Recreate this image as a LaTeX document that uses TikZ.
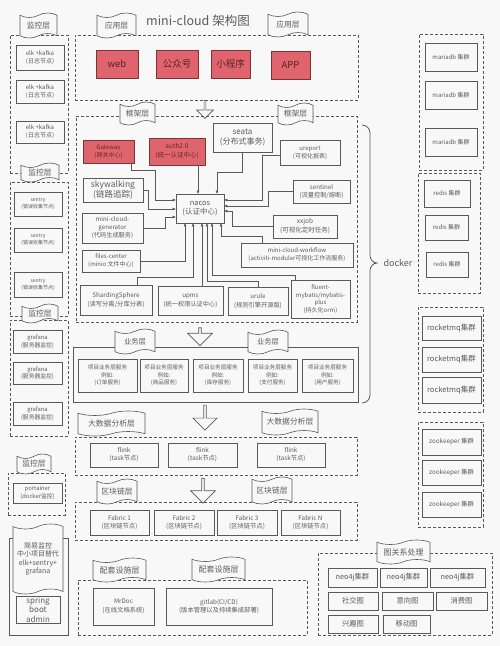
\documentclass[tikz,border=0pt]{standalone}
\usepackage{fontspec}
\setmainfont{Noto Sans CJK SC}
\usetikzlibrary{shapes.symbols,shapes.arrows,arrows.meta}
\definecolor{lc}{HTML}{595959}
\definecolor{tc}{HTML}{5C5C5C}
\definecolor{bgc}{HTML}{F8F8F8}
\definecolor{redc}{HTML}{E0646E}
\definecolor{redd}{HTML}{7A3535}
\newcommand\fs[2]{\fontsize{#1}{#2}\selectfont}
\newcommand\bx[7][]{\node[#1,minimum width={(#5-#3)*1pt},minimum height={(#6-#4)*1pt}] (#2) at ({(#3+#5)/2},{(#4+#6)/2}) {#7};}
\tikzset{
 box/.style={draw=lc, line width=0.6pt, fill=bgc, inner sep=0.5pt, align=center, text=tc, font=\fs{6}{8}},
 redbox/.style={box, fill=redc, draw=redd, text=redd!80!black, font=\fs{6}{8}},
 appbox/.style={box, fill=redc, draw=redd, text=redd!70!black, font=\fs{9.5}{11}},
 grp/.style={draw=lc, line width=0.7pt, dash pattern=on 3pt off 2pt, inner sep=0pt},
 sgrp/.style={draw=lc, line width=0.7pt, inner sep=0pt},
 banner/.style={tape, draw=lc, line width=0.6pt, fill=bgc, inner sep=0pt, tape bend height=4.5pt, align=center, text=tc, font=\fs{7.8}{9}},
 harrow/.style={single arrow, draw=lc, line width=0.7pt, fill=bgc, shape border rotate=270, single arrow head extend=3pt, inner sep=0pt},
 conn/.style={draw=lc, line width=0.5pt, -{Triangle[length=3pt,width=2.6pt]}},
}
\begin{document}
\begin{tikzpicture}[x=1pt,y=-1pt]
\fill[bgc] (0,0) rectangle (500,646);
\useasboundingbox (0,0) rectangle (500,646);

\node[font=\fs{12.5}{14}, text=tc] (title) at (198,21) {mini-cloud 架构图};

% ---------- left column ----------
\bx[grp]{lg1}{10}{35}{68}{173}{}
\bx[box,font=\fs{6}{8}]{elk1}{16}{45}{64}{70}{elk +kafka\\(日志节点)}
\bx[box,font=\fs{6}{8}]{elk2}{16}{80}{64}{103}{elk +kafka\\(日志节点)}
\bx[box,font=\fs{6}{8}]{elk3}{16}{121}{64}{143}{elk +kafka\\(日志节点)}
\bx[banner]{lb1}{20}{13}{57}{38}{监控层}

\bx[grp]{lg2}{10}{182}{68}{316}{}
\bx[box,font=\fs{5}{7}]{sen1}{14}{192}{62}{216}{sentry\\(错误收集节点)}
\bx[box,font=\fs{5}{7}]{sen2}{14}{228}{62}{252}{sentry\\(错误收集节点)}
\bx[box,font=\fs{5}{7}]{sen3}{14}{272}{62}{297}{sentry\\(错误收集节点)}
\bx[banner]{lb2}{21}{163}{59}{182}{监控层}

\bx[grp]{lg3}{10}{320}{68}{436}{}
\bx[box,font=\fs{5.8}{7.5}]{gra1}{13}{330}{62}{353}{grafana\\(服务器监控)}
\bx[box,font=\fs{5.8}{7.5}]{gra2}{13}{362}{62}{384}{grafana\\(服务器监控)}
\bx[box,font=\fs{5.8}{7.5}]{gra3}{13}{402}{62}{425}{grafana\\(服务器监控)}
\bx[banner]{lb3}{22}{304}{58}{323}{监控层}

\bx[grp]{lg4}{8}{473}{65}{515}{}
\bx[box,font=\fs{5.8}{7.5}]{port}{13}{483}{62}{503}{portainer\\(docker监控)}
\bx[banner]{lb4}{17}{454}{51}{474}{监控层}

\bx[sgrp]{lg5}{9}{538}{68}{635}{}
\bx[banner,font=\fs{7}{8.5},tape bend height=5pt]{lb5}{13}{524}{63}{594}{简易监控\\中小项目替代\\elk+sentry+\\grafana}
\bx[box,font=\fs{8}{9.5}]{sba}{16}{596}{60}{623}{spring\\boot\\admin}

% ---------- application layer ----------
\bx[grp]{appg}{75}{35}{358}{100}{}
\bx[appbox]{web}{96}{50}{138}{78}{web}
\bx[appbox]{gzh}{156}{50}{198}{78}{公众号}
\bx[appbox]{xcx}{211}{50}{250}{78}{小程序}
\bx[appbox]{app}{271}{51}{310}{79}{APP}
\bx[banner]{ab1}{97}{13}{136}{38}{应用层}
\bx[banner]{ab2}{268}{12}{308}{37}{应用层}

\node[harrow, minimum height=18pt, minimum width=17pt] (ar1) at (205,109) {};

% ---------- framework layer ----------
\bx[grp]{fwg}{76}{116}{357}{322}{}
\bx[banner]{fb1}{120}{102}{155}{125}{框架层}
\bx[banner]{fb2}{278}{103}{313}{125}{框架层}

\bx[redbox,font=\fs{6}{8}]{gw}{83}{140}{134}{163}{Gateway\\(网关中心)}
\bx[redbox,font=\fs{6.5}{9}]{auth}{149}{138}{205}{165}{auth2.0\\(统一认证中心)}
\bx[box,font=\fs{8}{10}]{seata}{213}{123}{272}{152}{seata\\(分布式事务)}
\bx[box,font=\fs{6}{8}]{urep}{280}{140}{340}{165}{ureport\\(可视化报表)}
\bx[box,font=\fs{8.5}{10.5}]{sky}{83}{178}{143}{202}{skywalking\\(链路追踪)}
\bx[box,font=\fs{6.2}{8.5}]{sent}{293}{180}{350}{203}{sentinel\\(流量控制/熔断)}
\bx[box,font=\fs{7.5}{9.5}]{nacos}{176}{194}{224}{223}{nacos\\(认证中心)}
\bx[box,font=\fs{6.2}{8}]{gen}{82}{213}{143}{243}{mini-cloud-\\generator\\(代码生成服务)}
\bx[box,font=\fs{6.5}{9}]{xxjob}{273}{215}{337}{238}{xxjob\\(可视化定时任务)}
\bx[box,font=\fs{6}{8}]{files}{82}{250}{140}{272}{files-center\\(minio 文件中心)}
\bx[box,font=\fs{6}{8}]{wf}{241}{243}{353}{267}{mini-cloud-workflow\\(activiti-moduler可视化工作流服务)}
\bx[box,font=\fs{6.3}{9}]{shard}{80}{285}{152}{315}{ShardingSphere\\(读写分离/分库分表)}
\bx[box,font=\fs{6.2}{9}]{upms}{158}{286}{223}{315}{upms\\(统一权限认证中心)}
\bx[box,font=\fs{6.2}{9}]{urule}{228}{287}{288}{315}{urule\\(规则引擎开源版)}
\bx[box,font=\fs{6}{7.6}]{fluent}{291}{280}{350}{318}{fluent-\\mybatis/mybatis-\\plus\\(持久化orm)}

% connectors into nacos
\draw[conn] ([xshift=-3pt]gw.south east) |- (155,170) |- (nacos.west |- 0,200);
\draw[conn] (198,0 |- auth.south) -- (198,0 |- nacos.north);
\draw[conn] (seata.south) |- (217,172) -- (217,0 |- nacos.north);
\draw[conn] ([yshift=-3pt]urep.west) -| (262,200) -- (nacos.east |- 0,200);
\draw[conn] (sent.west) -| (268,206) -- (nacos.east |- 0,206);
\draw[conn] (xxjob.west) -| (232,211) -- (nacos.east |- 0,211);
\draw[conn] ([xshift=-35pt]wf.north) |- (221,236) -- (221,0 |- nacos.south);
\draw[conn] ([xshift=-25pt]fluent.north) |- (212,275) -- (212,0 |- nacos.south);
\draw[conn] (urule.north) |- (207,281) -- (207,0 |- nacos.south);
\draw[conn] (202,0 |- upms.north) -- (202,0 |- nacos.south);
\draw[conn] ([xshift=21pt]shard.north) |- (193,277) -- (193,0 |- nacos.south);
\draw[conn] (files.east) -| (185,0 |- nacos.south);
\draw[conn] (gen.east) -| (165,217) -- (nacos.west |- 0,217);
\draw[conn] (sky.east) -| (148,209) -- (nacos.west |- 0,209);

% docker bracket
\draw[lc, line width=0.8pt] (362,125) to[out=0,in=90] (370,133) -- (370,255) to[out=-90,in=180] (377,263) to[out=180,in=90] (370,271) -- (370,395) to[out=-90,in=0] (362,403);
\node[font=\fs{9}{10}, text=tc] (docker) at (398,263) {docker};

% ---------- right column ----------
\bx[grp]{mg}{419}{34}{483}{170}{}
\bx[box]{m1}{425}{43}{477}{71}{mariadb 集群}
\bx[box]{m2}{425}{81}{477}{109}{mariadb 集群}
\bx[box]{m3}{425}{128}{477}{156}{mariadb 集群}

\bx[grp]{rg}{418}{173}{480}{293}{}
\bx[box]{r1}{424}{180}{470}{207}{redis 集群}
\bx[box]{r2}{425}{215}{468}{240}{redis 集群}
\bx[box]{r3}{426}{252}{468}{277}{redis 集群}

\bx[grp]{qg}{418}{307}{483}{412}{}
\bx[box,font=\fs{7.5}{9}]{q1}{422}{316}{481}{340}{rocketmq集群}
\bx[box,font=\fs{7.5}{9}]{q2}{422}{347}{481}{372}{rocketmq集群}
\bx[box,font=\fs{7.5}{9}]{q3}{422}{377}{481}{403}{rocketmq集群}

\bx[grp]{zg}{418}{422}{483}{527}{}
\bx[box,font=\fs{6.3}{8}]{z1}{422}{429}{481}{455}{zookeeper 集群}
\bx[box,font=\fs{6.3}{8}]{z2}{422}{460}{481}{485}{zookeeper 集群}
\bx[box,font=\fs{6.3}{8}]{z3}{422}{492}{481}{517}{zookeeper 集群}

% ---------- business layer ----------
\bx[sgrp]{bizg}{73}{347}{358}{402}{}
\bx[box,font=\fs{5.6}{7.5}]{b1}{78}{359}{137}{392}{项目业务层服务\\例如:\\(订单服务)}
\bx[box,font=\fs{5.6}{7.5}]{b2}{140}{359}{188}{392}{项目业务层服务\\例如:\\(商品服务)}
\bx[box,font=\fs{5.6}{7.5}]{b3}{193}{359}{243}{392}{项目业务层服务\\例如:\\(库存服务)}
\bx[box,font=\fs{5.6}{7.5}]{b4}{248}{359}{297}{392}{项目业务层服务\\例如:\\(支付服务)}
\bx[box,font=\fs{5.6}{7.5}]{b5}{302}{359}{353}{392}{项目业务层服务\\例如:\\(用户服务)}
\bx[banner,font=\fs{7.3}{9}]{bb1}{115}{329}{155}{354}{业务层}
\bx[banner,font=\fs{7.3}{9}]{bb2}{248}{330}{288}{354}{业务层}
\node[harrow, minimum height=18pt, minimum width=25pt] (ar2) at (200,336) {};

\node[harrow, minimum height=25pt, minimum width=24pt] (ar3) at (205,417) {};

% ---------- big data layer ----------
\bx[grp]{bdg}{75}{437}{357}{475}{}
\bx[box,font=\fs{6.3}{8}]{f1}{90}{443}{158}{467}{flink\\(task节点)}
\bx[box,font=\fs{6.3}{8}]{f2}{168}{443}{237}{467}{flink\\(task节点)}
\bx[box,font=\fs{6.3}{8}]{f3}{257}{443}{325}{467}{flink\\(task节点)}
\bx[banner]{db1}{78}{411}{145}{436}{大数据分析层}
\bx[banner]{db2}{262}{409}{318}{435}{大数据分析层}

\node[harrow, minimum height=25pt, minimum width=25pt] (ar4) at (203,490) {};

% ---------- blockchain layer ----------
\bx[grp]{chg}{75}{502}{357}{540}{}
\bx[box,font=\fs{6.3}{8.5}]{fa1}{90}{510}{149}{535}{Fabric 1\\(区块链节点)}
\bx[box,font=\fs{6.3}{8.5}]{fa2}{154}{510}{214}{535}{Fabric 2\\(区块链节点)}
\bx[box,font=\fs{6.3}{8.5}]{fa3}{217}{510}{277}{535}{Fabric 3\\(区块链节点)}
\bx[box,font=\fs{6.3}{8.5}]{fa4}{281}{510}{340}{535}{Fabric N\\(区块链节点)}
\bx[banner]{cb1}{97}{479}{137}{504}{区块链层}
\bx[banner]{cb2}{252}{477}{292}{504}{区块链层}

% ---------- supporting layer ----------
\bx[grp]{spg}{78}{580}{307}{635}{}
\bx[box,font=\fs{6.3}{8.5}]{mrdoc}{93}{588}{154}{625}{MrDoc\\(在线文档系统)}
\bx[box,font=\fs{6.3}{8.5}]{gitlab}{166}{588}{272}{625}{gitlab(CI/CD)\\(版本管理以及持续集成部署)}
\bx[banner,font=\fs{8}{9}]{sb1}{93}{558}{146}{582}{配套设施层}
\bx[banner,font=\fs{8}{9}]{sb2}{192}{557}{245}{582}{配套设施层}

% ---------- graph layer ----------
\bx[grp]{gg}{318}{553}{492}{635}{}
\bx[box,font=\fs{7.3}{9}]{n1}{328}{568}{377}{587}{neo4j集群}
\bx[box,font=\fs{7.3}{9}]{n2}{380}{568}{427}{587}{neo4j集群}
\bx[box,font=\fs{7.3}{9}]{n3}{430}{568}{485}{587}{neo4j集群}
\bx[box,font=\fs{7.3}{9}]{g1}{328}{592}{378}{610}{社交图}
\bx[box,font=\fs{7.3}{9}]{g2}{382}{592}{433}{610}{意向图}
\bx[box,font=\fs{7.3}{9}]{g3}{436}{592}{487}{610}{消费图}
\bx[box,font=\fs{7.3}{9}]{g4}{328}{615}{378}{633}{兴趣图}
\bx[box,font=\fs{7.3}{9}]{g5}{383}{615}{430}{633}{移动图}
\bx[banner,font=\fs{8}{9}]{gb}{377}{540}{430}{564}{图关系处理}
\end{tikzpicture}
\end{document}
